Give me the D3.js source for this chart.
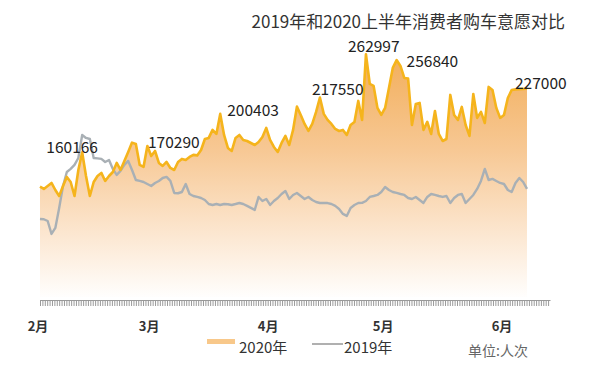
<!DOCTYPE html>
<html>
<head>
<meta charset="utf-8">
<script src="https://cdn.jsdelivr.net/npm/d3@7"></script>
<style>
  body { margin: 0; background: #fff; }
  text { font-family: "Noto Sans CJK SC", "Noto Sans", sans-serif; }
</style>
</head>
<body>
<div id="chart"></div>
<script>
// data: daily purchase intention, 2020-02-01 .. 2020-06-07
const startDay = "2020-02-01";
const axisEndDay = "2020-06-13";

const values2020 = [
  124100, 121700, 124800, 128000, 120600, 114300, 124800, 134300, 129000, 114300,
  141600, 160166, 135300, 114300, 129000, 135300, 138500, 130100, 135300, 139500,
  149000, 141600, 151100, 160500, 170290, 168900, 146900, 144800, 166800, 156300,
  161500, 149000, 145800, 150000, 143700, 141600, 150000, 153200, 152100, 155300,
  157400, 156900, 162600, 174100, 175200, 183600, 179400, 200403, 178300, 164700,
  161500, 175200, 178300, 173100, 172000, 169900, 167800, 171000, 176200, 185700,
  173100, 165700, 160500, 169900, 177300, 167800, 183600, 208000, 199300, 189900,
  182500, 189900, 202500, 217550, 200400, 194100, 189900, 184600, 182500, 183600,
  178300, 188800, 192000, 214000, 194100, 262997, 231800, 229700, 206700, 199300,
  206700, 227600, 248600, 256840, 250700, 238100, 237500, 188800, 210800, 211900,
  183600, 192000, 179400, 203500, 179400, 172000, 174100, 220300, 199300, 194100,
  207700, 188800, 177300, 221300, 196200, 202500, 190900, 228700, 225500, 206700,
  196200, 199300, 217100, 225500, 226100, 226400, 226600, 227000
];

const values2019 = [
  90200, 89900, 88100, 74500, 80800, 101800, 124800, 139500, 142700, 146900,
  154200, 178300, 175200, 174100, 154200, 153800, 153200, 150000, 152100, 142700,
  136400, 140600, 146900, 151100, 141600, 131100, 130100, 129000, 126900, 124800,
  128000, 130100, 133200, 134300, 130100, 117500, 117200, 118500, 126900, 116400,
  114300, 113300, 112200, 110100, 105900, 104900, 105900, 104900, 105900, 105700,
  104900, 105900, 107000, 105900, 103900, 101800, 99700, 113300, 109100, 111200,
  104900, 109100, 112200, 116400, 119600, 111200, 115400, 117500, 114300, 111200,
  113300, 110100, 108000, 107000, 107000, 106900, 105900, 103900, 100700, 95500,
  93400, 101800, 104900, 107000, 107100, 109100, 113300, 114300, 115400, 118500,
  123800, 120600, 118500, 117500, 116400, 115400, 112200, 111200, 113300, 110100,
  107000, 113300, 116400, 115400, 114300, 113300, 114300, 107000, 112200, 115400,
  116400, 107000, 111200, 115400, 121700, 130100, 142700, 131100, 132200, 130100,
  128000, 126900, 120600, 118500, 128000, 133200, 129000, 121700
];

// annotated peaks (index into the daily series)
const peakIndex = [11, 24, 47, 73, 85, 93, 127];

const monthStarts = ["2020-02-01", "2020-03-01", "2020-04-01", "2020-05-01", "2020-06-01"];
const monthLabels = ["2月", "3月", "4月", "5月", "6月"];

const seriesNames = ["2020年", "2019年"];
const titleText = "2019年和2020上半年消费者购车意愿对比";
const unitText = "单位:人次";

const width = 600, height = 367;
const parse = d3.utcParse("%Y-%m-%d");
const start = parse(startDay);
const days = values2020.map((d, i) => d3.utcDay.offset(start, i));

const svg = d3.select("#chart").append("svg")
    .attr("width", width)
    .attr("height", height);

const x = d3.scaleUtc()
    .domain([start, parse(axisEndDay)])
    .range([40, 550]);

const y = d3.scaleLinear()
    .domain([0, 280000])
    .range([305, 38]);

// gradient for the 2020 area
const grad = svg.append("defs").append("linearGradient")
    .attr("id", "fill2020")
    .attr("gradientUnits", "userSpaceOnUse")
    .attr("x1", 0).attr("x2", 0)
    .attr("y1", 50).attr("y2", 300);
grad.append("stop").attr("offset", 0).attr("stop-color", "#f2ad58");
grad.append("stop").attr("offset", 0.4).attr("stop-color", "#f7c894");
grad.append("stop").attr("offset", 0.75).attr("stop-color", "#fce8d3");
grad.append("stop").attr("offset", 1).attr("stop-color", "#ffffff");

const area = d3.area()
    .x((d, i) => x(days[i]))
    .y0(y(0) - 8)
    .y1(d => y(d));

svg.append("path")
    .datum(values2020)
    .attr("fill", "url(#fill2020)")
    .attr("d", area);

const line = d3.line()
    .x((d, i) => x(days[i]))
    .y(d => y(d));

svg.append("path")
    .datum(values2019)
    .attr("fill", "none")
    .attr("stroke", "#a9b0b5")
    .attr("stroke-width", 2.4)
    .attr("stroke-linejoin", "round")
    .attr("d", line);

svg.append("path")
    .datum(values2020)
    .attr("fill", "none")
    .attr("stroke", "#f5b41c")
    .attr("stroke-width", 2.6)
    .attr("stroke-linejoin", "round")
    .attr("d", line);

// x axis: dense tick marks
const tickDates = d3.utcHour.range(start, d3.utcHour.offset(parse(axisEndDay), 1), 15);
const xAxis = svg.append("g")
    .attr("transform", "translate(0,300)")
    .call(d3.axisBottom(x).tickValues(tickDates).tickFormat("").tickSize(6).tickSizeOuter(0));
xAxis.select(".domain").attr("stroke", "#999");
xAxis.selectAll(".tick line").attr("stroke", "#9a9a9a");

// month labels
svg.selectAll(".month")
    .data(monthStarts)
    .enter()
    .append("text")
    .attr("class", "month")
    .attr("x", d => x(parse(d)) - 2)
    .attr("y", 331)
    .attr("text-anchor", "middle")
    .attr("font-size", 13)
    .attr("font-weight", "bold")
    .attr("fill", "#333")
    .text((d, i) => monthLabels[i]);

// peak labels
const labelOffset = [[-10, 1, "middle"], [16, 5, "start"], [7, 2, "start"], [-8, -3, "start"],
                     [-18, -2, "start"], [10, 7, "start"], [-12, 0, "start"]];
svg.selectAll(".peak")
    .data(peakIndex)
    .enter()
    .append("text")
    .attr("class", "peak")
    .attr("x", (d, i) => x(days[d]) + labelOffset[i][0])
    .attr("y", (d, i) => y(values2020[d]) + labelOffset[i][1])
    .attr("text-anchor", (d, i) => labelOffset[i][2])
    .attr("font-size", 15.5)
    .attr("fill", "#222")
    .text(d => values2020[d]);

// title
svg.append("text")
    .attr("x", 565)
    .attr("y", 28)
    .attr("text-anchor", "end")
    .attr("font-size", 17)
    .attr("fill", "#333")
    .text(titleText);

// legend
svg.append("rect")
    .attr("x", 207).attr("y", 339)
    .attr("width", 28).attr("height", 5)
    .attr("fill", "#f8c88a");
svg.append("text")
    .attr("x", 239).attr("y", 352.5)
    .attr("font-size", 15)
    .attr("fill", "#333")
    .text(seriesNames[0]);
svg.append("line")
    .attr("x1", 312).attr("x2", 343)
    .attr("y1", 344).attr("y2", 344)
    .attr("stroke", "#b0b0b0")
    .attr("stroke-width", 2);
svg.append("text")
    .attr("x", 344).attr("y", 352.5)
    .attr("font-size", 15)
    .attr("fill", "#333")
    .text(seriesNames[1]);

svg.append("text")
    .attr("x", 468).attr("y", 356)
    .attr("font-size", 14)
    .attr("fill", "#666")
    .text(unitText);
</script>
</body>
</html>
